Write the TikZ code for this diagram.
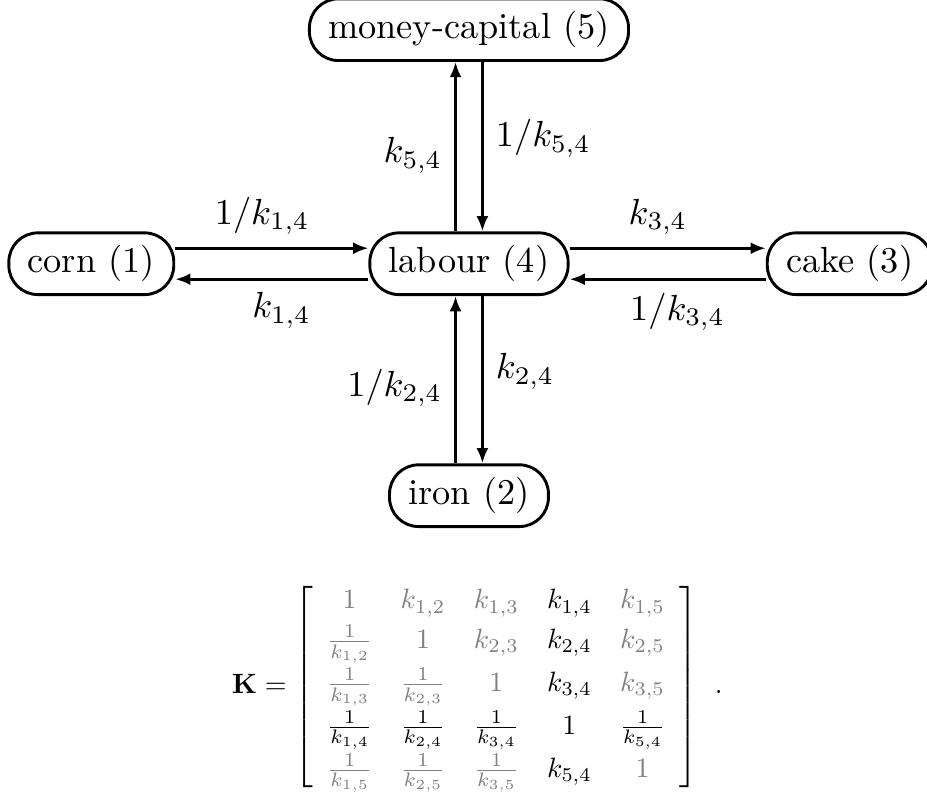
\documentclass[tikz,border=0pt]{standalone}
\usepackage{amsmath,amssymb}
\usepackage{xcolor}
\usepackage{tikz}
\usetikzlibrary{arrows.meta,positioning}
\definecolor{entryGray}{gray}{0.5}
\newcommand{\greyed}[1]{\textcolor{entryGray}{#1}}
\tikzset{
  commodity/.style={rectangle, rounded corners=8pt, draw, thick, inner xsep=5.2pt, inner ysep=3.5pt},
  arrow/.style={-{Latex[length=4.2pt,width=3.3pt]}, thick}
}
\begin{document}
\begin{tikzpicture}[node distance=1.9cm]
\useasboundingbox (-4.54,2.553) rectangle (4.434,-5.134);
\node[commodity] (labour) at (0,0) {labour (4)};
\node[commodity, left=1.87cm of labour] (corn) {corn (1)};
\node[commodity, right=of labour] (cake) {cake (3)};
\node[commodity, above=1.64cm of labour] (money) {money-capital (5)};
\node[commodity, below=1.62cm of labour] (iron) {iron (2)};
\draw[arrow] ([yshift=0.15cm]corn.east) -- node[above, pos=0.45] {$1/k_{1,4}$} ([yshift=0.15cm]labour.west);
\draw[arrow] ([yshift=-0.15cm]labour.west) -- node[below, pos=0.45] {$k_{1,4}$} ([yshift=-0.15cm]corn.east);
\draw[arrow] ([yshift=0.15cm]labour.east) -- node[above, pos=0.45] {$k_{3,4}$} ([yshift=0.15cm]cake.west);
\draw[arrow] ([yshift=-0.15cm]cake.west) -- node[below, pos=0.45] {$1/k_{3,4}$} ([yshift=-0.15cm]labour.east);
\draw[arrow] ([xshift=-0.13cm]labour.north) -- node[left, pos=0.45] {$k_{5,4}$} ([xshift=-0.13cm]money.south);
\draw[arrow] ([xshift=0.13cm]money.south) -- node[right, pos=0.45] {$1/k_{5,4}$} ([xshift=0.13cm]labour.north);
\draw[arrow] ([xshift=-0.13cm]iron.north) -- node[left, pos=0.45] {$1/k_{2,4}$} ([xshift=-0.13cm]labour.south);
\draw[arrow] ([xshift=0.13cm]labour.south) -- node[right, pos=0.45] {$k_{2,4}$} ([xshift=0.13cm]iron.north);
% the matrix of exchange rates
\node[below=0.51cm of iron, xshift=0.08cm, inner sep=0pt, scale=0.77, transform shape] (matK) {\renewcommand{\arraystretch}{1.18}$\mathbf{K} = \left[\begin{array}{ccccc}
  \greyed{1} & \greyed{k_{1,2}} & \greyed{k_{1,3}} & k_{1,4} & \greyed{k_{1,5}}\\
  \greyed{\frac{1}{k_{1,2}}} & \greyed{1} & \greyed{k_{2,3}} & k_{2,4} & \greyed{k_{2,5}}\\
  \greyed{\frac{1}{k_{1,3}}} & \greyed{\frac{1}{k_{2,3}}} & \greyed{1} & k_{3,4} & \greyed{k_{3,5}}\\
  \frac{1}{k_{1,4}} & \frac{1}{k_{2,4}} & \frac{1}{k_{3,4}} & 1 & \frac{1}{k_{5,4}}\\
  \greyed{\frac{1}{k_{1,5}}} & \greyed{\frac{1}{k_{2,5}}} & \greyed{\frac{1}{k_{3,5}}} & k_{5,4} & \greyed{1}
\end{array}\right]\hspace{4.4pt}.$};
\end{tikzpicture}
\end{document}
